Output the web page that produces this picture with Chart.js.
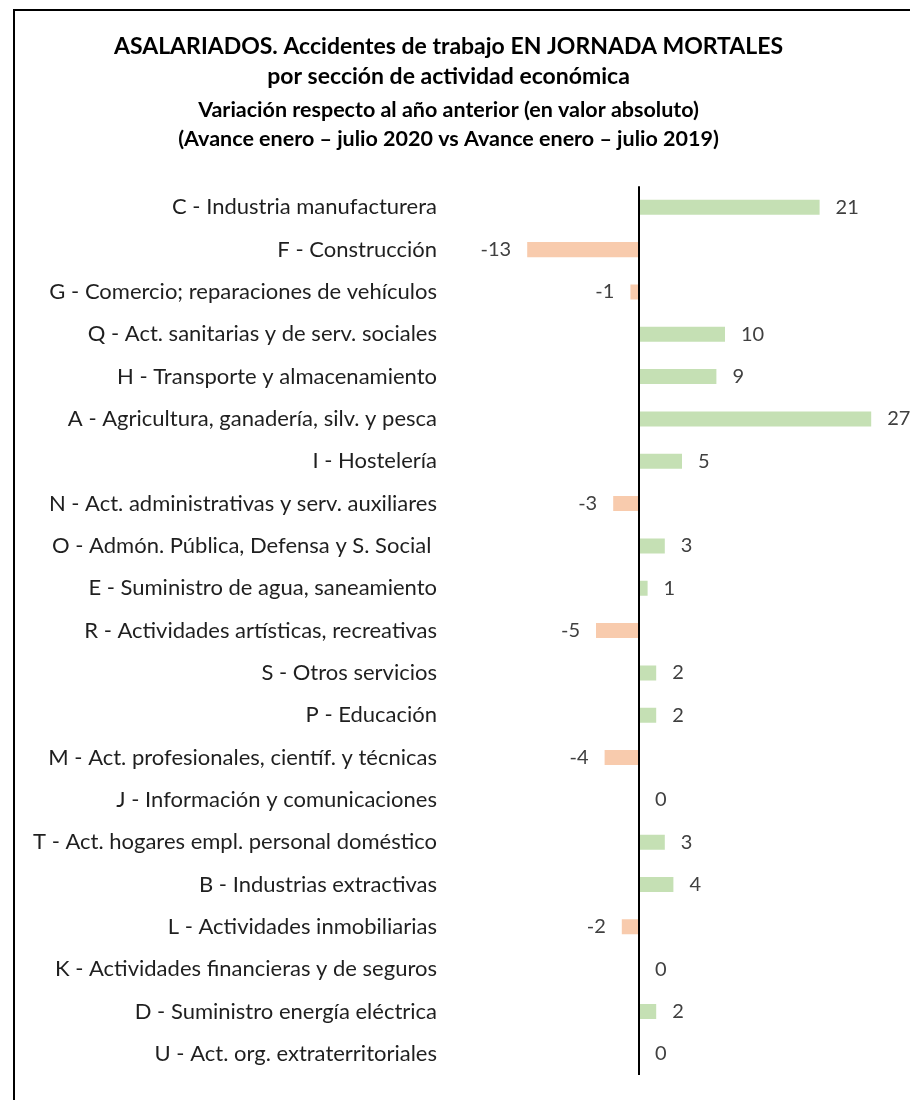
<!DOCTYPE html>
<html>
<head>
<meta charset="utf-8">
<script src="https://cdn.jsdelivr.net/npm/chart.js@4.4.0/dist/chart.umd.min.js"></script>
<style>
  html, body { margin: 0; padding: 0; background: #fff; }
  #wrap { position: relative; width: 910px; height: 1100px; overflow: hidden; }
  #frame { position: absolute; left: 13px; top: 9px; width: 1000px; height: 1200px;
           border-left: 2px solid #000; border-top: 2px solid #000; }
  canvas { position: absolute; left: 0; top: 0; }
</style>
</head>
<body>
<div id="wrap">
  <div id="frame"></div>
  <canvas id="myChart" width="910" height="1100"></canvas>
</div>
<script>
const categories = [
    'C - Industria manufacturera',
    'F - Construcción',
    'G - Comercio; reparaciones de vehículos',
    'Q - Act. sanitarias y de serv. sociales',
    'H - Transporte y almacenamiento',
    'A - Agricultura, ganadería, silv. y pesca',
    'I - Hostelería',
    'N - Act. administrativas y serv. auxiliares',
    'O - Admón. Pública, Defensa y S. Social ',
    'E - Suministro de agua, saneamiento',
    'R - Actividades artísticas, recreativas',
    'S - Otros servicios',
    'P - Educación',
    'M - Act. profesionales, científ. y técnicas',
    'J - Información y comunicaciones',
    'T - Act. hogares empl. personal doméstico',
    'B - Industrias extractivas',
    'L - Actividades inmobiliarias',
    'K - Actividades financieras y de seguros',
    'D - Suministro energía eléctrica',
    'U - Act. org. extraterritoriales'
];
const variation = [21, -13, -1, 10, 9, 27, 5, -3, 3, 1, -5, 2, 2, -4, 0, 3, 4, -2, 0, 2, 0];

const titleLines = [
    'ASALARIADOS. Accidentes de trabajo EN JORNADA MORTALES',
    'por sección de actividad económica'
];
const subtitleLines = [
    'Variación respecto al año anterior (en valor absoluto)',
    '(Avance enero – julio 2020 vs Avance enero – julio 2019)'
];

const FONT = 'Lato, "Open Sans", sans-serif';

// etiquetas de valor al final de cada barra
const valueLabels = {
    id: 'valueLabels',
    afterDatasetsDraw(chart) {
        const ctx = chart.ctx;
        const meta = chart.getDatasetMeta(0);
        ctx.save();
        ctx.font = '20px ' + FONT;
        ctx.fillStyle = '#404040';
        ctx.textBaseline = 'middle';
        meta.data.forEach((bar, i) => {
            const v = variation[i];
            if (v < 0) {
                ctx.textAlign = 'right';
                ctx.fillText(String(v), bar.x - 16, bar.y);
            } else {
                ctx.textAlign = 'left';
                ctx.fillText(String(v), bar.x + 16, bar.y);
            }
        });
        ctx.restore();
    }
};

const ctx = document.getElementById('myChart').getContext('2d');
const myChart = new Chart(ctx, {
    type: 'bar',
    data: {
        labels: categories,
        datasets: [{
            data: variation,
            backgroundColor: variation.map(v => v < 0 ? '#F8CBAD' : '#C5E0B4'),
            barPercentage: 0.355,
            categoryPercentage: 1
        }]
    },
    plugins: [valueLabels],
    options: {
        indexAxis: 'y',
        responsive: false,
        animation: false,
        layout: { padding: { left: 0, right: 13, top: 0, bottom: 25 } },
        plugins: {
            legend: { display: false },
            tooltip: { enabled: false },
            title: {
                display: true,
                text: titleLines,
                color: '#000',
                font: { family: FONT, size: 23, weight: 'bold', lineHeight: 1.3 },
                padding: { top: 32, bottom: 3 }
            },
            subtitle: {
                display: true,
                text: subtitleLines,
                color: '#000',
                font: { family: FONT, size: 21.5, weight: 'bold', lineHeight: 1.38 },
                padding: { top: 0, bottom: 32 }
            }
        },
        scales: {
            x: {
                min: -15,
                max: 30,
                afterFit: scale => { scale.height = 0; },
                ticks: { display: false, stepSize: 15 },
                border: { display: false },
                grid: {
                    drawTicks: false,
                    color: c => c.tick && c.tick.value === 0 ? '#000' : 'rgba(0,0,0,0)',
                    lineWidth: 2
                }
            },
            y: {
                afterFit: scale => {
                    scale.width = 510;
                    // el padding de las etiquetas no debe encoger el área vertical
                    scale.paddingTop = 0;
                    scale.paddingBottom = 0;
                },
                ticks: { color: '#1f1f1f', font: { family: FONT, size: 22 }, padding: 65, autoSkip: false },
                border: { display: false },
                grid: { display: false }
            }
        }
    }
});
</script>
</body>
</html>
